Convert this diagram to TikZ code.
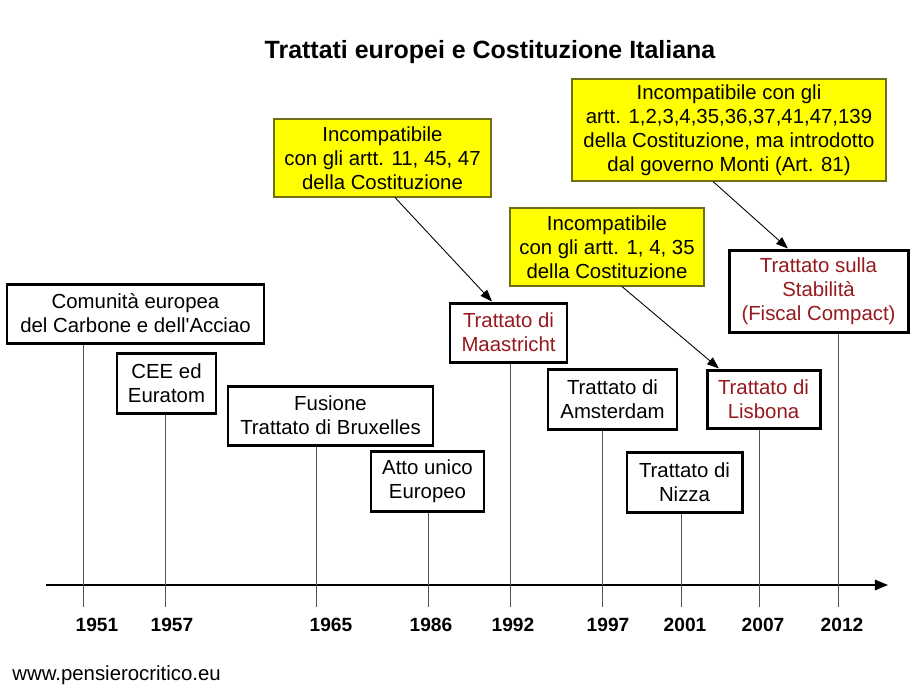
\documentclass[tikz,border=0pt]{standalone}
\usepackage{fontspec}
\setmainfont{Liberation Sans}[Ligatures=TeXOff]
\usetikzlibrary{arrows.meta}

\newlength\px
\setlength\px{0.02cm}
\newcommand\bodyfont{\fontsize{11.6pt}{13.6pt}\selectfont}
\newcommand\titlefont{\fontsize{14.2pt}{16pt}\selectfont\bfseries}
\newcommand\yearfont{\fontsize{10.9pt}{13pt}\selectfont\bfseries}

\definecolor{treatyred}{RGB}{150,25,30}
\definecolor{noteyellow}{RGB}{255,255,0}
\definecolor{noteborder}{RGB}{110,110,20}
\definecolor{linegray}{RGB}{80,80,80}

\tikzset{
  treaty/.style={draw, line width=1.7pt, fill=white, align=center, inner sep=0pt, font=\bodyfont},
  redtreaty/.style={treaty, text=treatyred},
  note/.style={draw=noteborder, line width=0.6pt, fill=noteyellow, align=center, inner sep=0pt, font=\bodyfont},
  noteline/.style={line width=0.5pt, -{Triangle[length=6.8pt,width=5pt]}},
  yearline/.style={draw=linegray, line width=0.55pt}
}

\begin{document}
\begin{tikzpicture}[x=0.02cm, y=-0.02cm]
    \useasboundingbox (0,0) rectangle (920,691);

    % Title
    \node[font=\titlefont] (title) at (490,52) {Trattati europei e Costituzione Italiana};

    % Treaties
    \node[treaty, minimum width=257\px, minimum height=59\px] (ceca) at (135.5,313.5) {Comunità europea\\del Carbone e dell'Acciao};
    \node[treaty, minimum width=99\px, minimum height=60\px] (cee) at (166.5,383) {CEE ed\\Euratom};
    \node[treaty, minimum width=205\px, minimum height=59\px] (fus) at (330.5,415.5) {Fusione\\Trattato di Bruxelles};
    \node[treaty, minimum width=113\px, minimum height=60\px] (atto) at (427.5,481) {Atto unico\\Europeo};
    \node[redtreaty, minimum width=117\px, minimum height=59\px] (maas) at (508.5,332.5) {Trattato di\\Maastricht};
    \node[treaty, minimum width=129\px, minimum height=60\px] (amst) at (612.5,399) {Trattato di\\Amsterdam};
    \node[treaty, minimum width=115\px, minimum height=60\px] (nizza) at (684.5,482) {Trattato di\\Nizza};
    \node[redtreaty, minimum width=113\px, minimum height=58\px] (lisb) at (763.5,399) {Trattato di\\Lisbona};
    \node[redtreaty, minimum width=179\px, minimum height=82\px] (fisc) at (818.5,291) {Trattato sulla\\Stabilità\\(Fiscal Compact)};

    % Notes
    \node[note, minimum width=217\px, minimum height=78\px] (nmaas) at (382.5,158) {Incompatibile\\con gli artt. 11, 45, 47\\della Costituzione};
    \node[note, minimum width=194\px, minimum height=78\px] (nlisb) at (607,247) {Incompatibile\\con gli artt. 1, 4, 35\\della Costituzione};
    \node[note, minimum width=314\px, minimum height=102\px] (nfisc) at (729,130) {Incompatibile con gli\\artt. 1,2,3,4,35,36,37,41,47,139\\della Costituzione, ma introdotto\\dal governo Monti (Art. 81)};

    % Note arrows
    \draw[noteline] ([xshift=12.5\px]nmaas.south) -- ([xshift=-16.5\px]maas.north);
    \draw[noteline] ([xshift=15\px]nlisb.south) -- ([xshift=-44.5\px]lisb.north);
    \draw[noteline] ([xshift=-16\px]nfisc.south) -- ([xshift=-30.5\px]fisc.north);

    % Time axis
    \coordinate (axstart) at (46,585);
    \coordinate (axend) at (888,585);
    \draw[line width=0.85pt, -{Triangle[length=7.5pt,width=6pt]}] (axstart) -- (axend);

    % Year lines and labels
    \foreach \yr/\tx/\lx/\tr in {1951/83/97/ceca, 1957/165/172/cee, 1965/316/331/fus,
        1986/428/431/atto, 1992/510/513/maas, 1997/602/608/amst,
        2001/681/685/nizza, 2007/759/763/lisb, 2012/838/842/fisc}{
        \coordinate (t\yr) at (\tx,607);
        \draw[yearline] (t\yr) -- (t\yr |- \tr.south);
        \node[font=\yearfont] (y\yr) at (\lx,625) {\yr};
    }

    % Footer
    \node[anchor=west, inner sep=0pt, font=\bodyfont] (web) at (12,675) {www.pensierocritico.eu};
\end{tikzpicture}
\end{document}
